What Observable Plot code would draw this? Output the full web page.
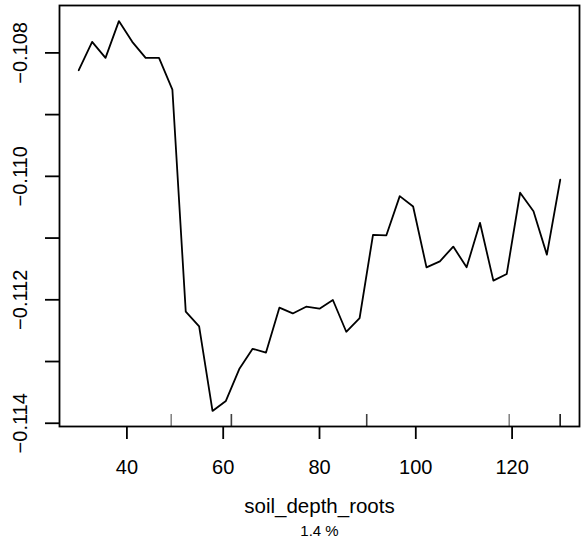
<!DOCTYPE html>
<html>
<head>
<meta charset="utf-8">
<script src="https://cdn.jsdelivr.net/npm/d3@7"></script>
<script src="https://cdn.jsdelivr.net/npm/@observablehq/plot@0.6"></script>
<style>
  html, body { margin: 0; padding: 0; background: #fff; }
  #chart { width: 584px; height: 545px; }
</style>
</head>
<body>
<div id="chart"></div>
<script>
// grid values of soil_depth_roots (37 points, 30..130)
const depth = d3.range(37).map(i => 30 + i * 100 / 36);
const partial = [
  -0.108281, -0.107821, -0.108081, -0.107485, -0.107821, -0.108081, -0.108081, -0.108594,
  -0.112193, -0.112432, -0.113800, -0.113638, -0.113123, -0.112794, -0.112854, -0.112128,
  -0.112221, -0.112112, -0.112144, -0.112003, -0.112518, -0.112295, -0.110948, -0.110955,
  -0.110321, -0.110489, -0.111474, -0.111377, -0.111138, -0.111474, -0.110753, -0.111690,
  -0.111581, -0.110266, -0.110565, -0.111268, -0.110055
];
const xTicks = [40, 60, 80, 100, 120];
const yTicks = [-0.114, -0.113, -0.112, -0.111, -0.110, -0.109, -0.108];
const yLabelTicks = [-0.114, -0.112, -0.110, -0.108];
// deciles of the predictor (duplicates overlap and look darker)
const rug = [49.2, 61.7, 61.7, 89.8, 89.8, 119.4, 130, 130, 130];
const xLabel = "soil_depth_roots";
const subLabel = "1.4 %";

const data = depth.map((d, i) => ({depth: d, value: partial[i]}));
const xr = d3.extent(depth), yr = d3.extent(partial);
const xPad = (xr[1] - xr[0]) * 0.04, yPad = (yr[1] - yr[0]) * 0.04;

const W = 584, H = 545, mL = 59, mR = 5, mT = 5, mB = 119;
const font = "'Liberation Sans', Arial, Helvetica, sans-serif";

const chart = Plot.plot({
  width: W, height: H,
  marginLeft: mL, marginRight: mR, marginTop: mT, marginBottom: mB,
  style: {fontFamily: font, color: "black", background: "white"},
  x: {domain: [xr[0] - xPad, xr[1] + xPad], axis: null},
  y: {domain: [yr[0] - yPad, yr[1] + yPad], axis: null},
  marks: [
    Plot.ruleX(rug, {x: d => d, stroke: "black", strokeOpacity: 0.5, strokeWidth: 1.5, insetTop: (H - mT - mB) - 12}),
    Plot.line(data, {x: "depth", y: "value", stroke: "black", strokeWidth: 1.8}),
    Plot.frame({stroke: "black", strokeWidth: 1.8}),
    Plot.axisX({ticks: xTicks, tickSize: 13, tickPadding: 20.4, fontSize: 20, strokeWidth: 1.8, label: null, tickFormat: d => d}),
    Plot.axisY({ticks: yTicks, tickSize: 14, strokeWidth: 1.8, label: null, tickFormat: () => ""}),
    Plot.text(yLabelTicks, {y: d => d, text: d => d3.format(".3f")(d), frameAnchor: "left", rotate: -90, dx: -32.3, textAnchor: "middle", lineAnchor: "bottom", fontSize: 20, fill: "black"}),
    Plot.text([xLabel], {text: d => d, frameAnchor: "bottom", dy: 86, lineAnchor: "bottom", fontSize: 20.5, fill: "black"}),
    Plot.text([subLabel], {text: d => d, frameAnchor: "bottom", dy: 109.3, lineAnchor: "bottom", fontSize: 15, fill: "black"})
  ]
});
document.getElementById("chart").appendChild(chart);
</script>
</body>
</html>
